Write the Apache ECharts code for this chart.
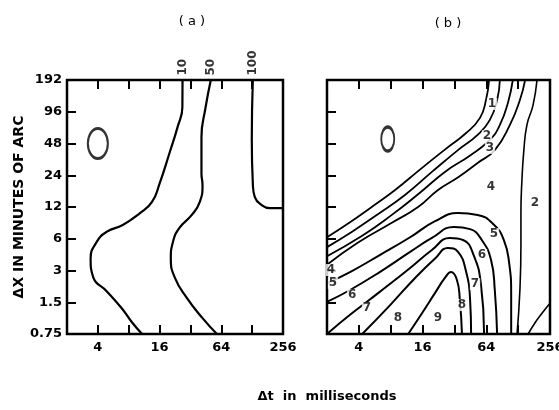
<!DOCTYPE html>
<html>
<head>
<meta charset="utf-8">
<script src="https://cdn.jsdelivr.net/npm/echarts@6/dist/echarts.min.js"></script>
<style>
  html, body { margin: 0; padding: 0; background: #fff; }
  #chart { width: 559px; height: 410px; }
</style>
</head>
<body>
<div id="chart"></div>
<script>
// axis ticks: x is log2 of milliseconds (2..256), y is octaves above 0.75 arcmin
const xTickLabels = { 2: '4', 4: '16', 6: '64', 8: '256' };
const yTickLabels = ['0.75', '1.5', '3', '6', '12', '24', '48', '96', '192'];

// panel (a) contours, points are [dt ms, dx arcmin]
const a10 = [[26.8,192],[26.7,106],[24,69],[20,39],[16,20],[13.5,13.4],[10.3,10.5],[7,8.1],[4.9,7],[3.9,5.6],[3.4,3.9],[3.6,2.6],[4.9,1.9],[6.9,1.3],[8.6,0.97],[10.8,0.75]];
const a50 = [[50.6,192],[45,106],[41,55],[41,25],[42,19.4],[39.5,13.4],[33,10.1],[25,7.6],[21.6,5.6],[20.6,3.9],[22.6,2.55],[29.5,1.65],[42,1.06],[58,0.75]];
const a100 = [[130,192],[127,52],[130,20],[136,14.9],[159,12.5],[190,11.7],[256,11.7]];
const aLabels = [[26.8,192,'10'],[50.6,192,'50'],[130,192,'100']];
const aEllipse = [[4,48]];

// panel (b) contours
const bD1 = [[68,192],[63.6,124],[55.8,84],[41,60],[26,42],[15,27],[8.8,17.4],[5.1,11.7],[3.3,8.6],[2,6.2]];
const bD2 = [[86,192],[81,124],[69,80],[53,58],[35,42],[19.6,25.8],[10.9,15.6],[6.1,10.3],[3.45,7],[2,5]];
const bD3 = [[114,192],[103,119],[86,72],[69,52],[45,37],[26,25.8],[15,16.3],[8.2,10.1],[4.3,6.4],[2,4.1]];
const bD4 = [[149,192],[133,124],[107,72],[77,41.6],[53,31.4],[35,23.1],[22.4,17.4],[14.5,12],[8.2,8.5],[3.9,5.5],[2,3.4]];
const bA5 = [[2,2.28],[3.3,2.9],[6.3,4.2],[12.2,6.2],[21,8.8],[34.6,10.5],[53,10.1],[76,8.1],[94,5.8],[105,3.6],[110,1.76],[110,0.75]];
const bA6 = [[2,1.51],[3.3,1.96],[6.3,2.9],[12.2,4.5],[19.6,6.1],[31.7,7.75],[45,7.4],[58,5.84],[71,3.77],[77,1.96],[81,0.75]];
const bA7 = [[2,0.75],[3.3,1.14],[6.3,1.88],[12.2,3.17],[19.6,4.7],[29,6.1],[38.6,5.84],[49,4.1],[57,2.2],[61,0.75]];
const bA8 = [[4.3,0.75],[7.9,1.41],[13.6,2.55],[21,3.9],[27.8,4.9],[34.6,4.5],[41,3.0],[45,1.58],[46,0.75]];
const bA9 = [[11.7,0.75],[15.8,1.18],[21,1.84],[26,2.55],[29.7,2.9],[33.8,2.44],[36,1.58],[37.7,0.75]];
const bC2 = [[193,192],[177,111],[155,72],[145,41.6],[139,21.6],[136,10.5],[136,5.2],[133,1.96],[125,0.75]];
const bCorner = [[256,1.47],[215,1.18],[185,0.96],[159,0.75]];
const bLabels = [[72.5,113.7,'1'],[65,56.5,'2'],[69.4,43.5,'3'],[70.9,18.6,'4'],[184.6,13.1,'2'],
  [75.7,6.66,'5'],[58.3,4.21,'6'],[50.1,2.23,'7'],[37.7,1.41,'8'],[22.4,1.06,'9'],[9.37,1.06,'8'],
  [4.78,1.32,'7'],[3.45,1.76,'6'],[2.28,2.28,'5'],[2.18,3.03,'4']];
const bEllipse = [[7.5,53]];

const FONT = 'DejaVu Sans';
const toXY = p => [Math.log2(p[0]), Math.log2(p[1] / 0.75)];

function xAxisFor(grid, top) {
  return {
    type: 'value', gridIndex: grid, min: 1, max: 8, interval: 1,
    position: top ? 'top' : 'bottom',
    axisLine: { show: false },
    splitLine: { show: false },
    axisTick: { show: true, inside: true, length: 9, lineStyle: { color: '#000', width: 2 } },
    axisLabel: {
      show: !top, margin: 7, color: '#000', fontFamily: FONT, fontWeight: 'bold', fontSize: 13,
      formatter: v => xTickLabels[v] || ''
    }
  };
}

function yAxisFor(grid, labels) {
  return {
    type: 'value', gridIndex: grid, min: 0, max: 8, interval: 1,
    axisLine: { show: false },
    splitLine: { show: false },
    axisTick: { show: true, inside: true, length: 9, lineStyle: { color: '#000', width: 2 } },
    axisLabel: {
      show: labels, margin: 5, color: '#000', fontFamily: FONT, fontWeight: 'bold', fontSize: 13,
      formatter: v => yTickLabels[v]
    },
    name: labels ? 'ΔX IN MINUTES OF ARC' : '',
    nameLocation: 'middle', nameGap: 40, nameRotate: 90,
    nameTextStyle: { color: '#000', fontFamily: FONT, fontWeight: 'bold', fontSize: 14 }
  };
}

function curve(data, panel, width) {
  return {
    type: 'line', xAxisIndex: panel * 2, yAxisIndex: panel,
    data: data.map(toXY), showSymbol: false, smooth: 0.5,
    lineStyle: { color: '#000', width: width || 2 }, silent: true
  };
}

function ellipse(data, panel, size) {
  return {
    type: 'scatter', xAxisIndex: panel * 2, yAxisIndex: panel,
    data: data.map(toXY), symbol: 'circle', symbolSize: size,
    itemStyle: { color: 'rgba(0,0,0,0)', borderColor: '#000', borderWidth: 2.5 }, silent: true
  };
}

function labels(data, panel, opts) {
  return {
    type: 'scatter', xAxisIndex: panel * 2, yAxisIndex: panel,
    data: data.map(d => ({ value: toXY(d), name: d[2] })),
    symbolSize: 1, itemStyle: { color: 'rgba(0,0,0,0)' }, silent: true, z: 5,
    label: Object.assign({
      show: true, formatter: '{b}', color: '#000', fontFamily: FONT, fontWeight: 'bold', fontSize: 12
    }, opts)
  };
}

const chart = echarts.init(document.getElementById('chart'), null, { renderer: 'canvas' });
chart.setOption({
  animation: false,
  backgroundColor: '#fff',
  title: [
    { text: '( a )', left: 187, top: 10, textAlign: 'center', textStyle: { fontFamily: FONT, fontWeight: 'normal', fontSize: 13, color: '#000' } },
    { text: '( b )', left: 443, top: 12, textAlign: 'center', textStyle: { fontFamily: FONT, fontWeight: 'normal', fontSize: 13, color: '#000' } },
    { text: 'Δt  in  milliseconds', left: 322, top: 385, textAlign: 'center', textStyle: { fontFamily: FONT, fontWeight: 'bold', fontSize: 13, color: '#000' } }
  ],
  grid: [
    { left: 67, top: 80, width: 216, height: 254, show: true, borderColor: '#000', borderWidth: 2.5, outerBoundsMode: 'none' },
    { left: 327, top: 80, width: 223, height: 254, show: true, borderColor: '#000', borderWidth: 2.5, outerBoundsMode: 'none' }
  ],
  xAxis: [xAxisFor(0, false), xAxisFor(0, true), xAxisFor(1, false), xAxisFor(1, true)],
  yAxis: [yAxisFor(0, true), yAxisFor(1, false)],
  series: [
    curve(a10, 0, 2.2), curve(a50, 0, 2.2), curve(a100, 0, 2.2),
    ellipse(aEllipse, 0, [20, 30]),
    labels(aLabels, 0, { position: 'top', distance: 4, rotate: 90, align: 'left', verticalAlign: 'middle', fontSize: 12 }),
    curve(bD1, 1, 1.8), curve(bD2, 1, 1.8), curve(bD3, 1, 1.8), curve(bD4, 1, 1.8),
    curve(bA5, 1), curve(bA6, 1), curve(bA7, 1), curve(bA8, 1), curve(bA9, 1),
    curve(bC2, 1, 1.6), curve(bCorner, 1, 1.6),
    ellipse(bEllipse, 1, [13, 24]),
    labels(bLabels, 1, { position: 'inside', backgroundColor: '#fff', padding: [0, 1] })
  ]
});
window.onresize = function () { chart.resize(); };
</script>
</body>
</html>
